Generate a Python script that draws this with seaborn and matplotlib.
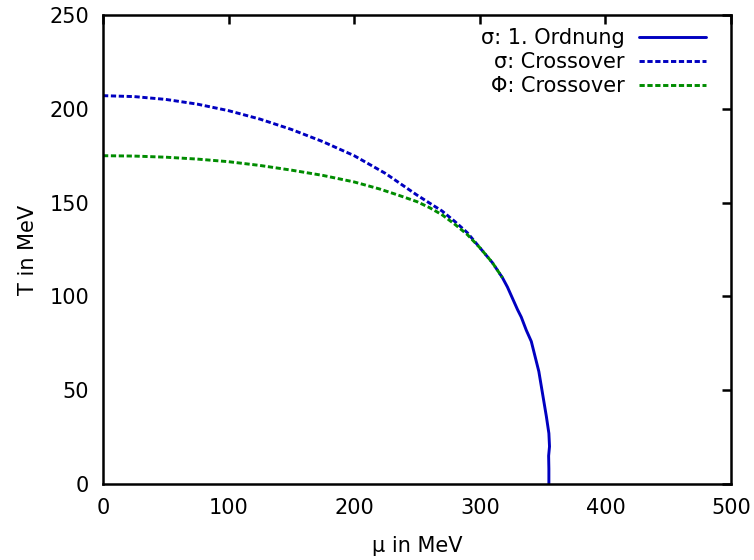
import matplotlib
matplotlib.use("Agg")
import matplotlib.pyplot as plt
import seaborn as sns
import pandas as pd

# data (mu in MeV, T in MeV)
mu_first = [318, 322, 326, 330, 333, 337, 341, 344, 347, 349, 351, 353, 355, 355.5, 354.8, 355, 355]
T_first = [110, 105, 99, 93, 89, 82, 76, 68, 60, 52, 44, 36, 27, 20, 15, 8, 0]

mu_sigma = [0, 25, 50, 75, 100, 125, 150, 175, 200, 225, 250, 270, 280, 290, 300, 310, 318]
T_sigma = [207, 206.5, 205, 202.5, 199, 194.5, 189, 182.5, 175, 165.5, 154, 145.5, 140, 134, 126, 118, 110]

mu_phi = [0, 25, 50, 75, 100, 125, 150, 175, 200, 220, 235, 250, 260, 270, 280, 290, 300, 310, 318]
T_phi = [175, 174.8, 174.2, 173.2, 171.8, 169.8, 167.3, 164.5, 161, 157.3, 154, 150.5, 147.3, 143.5, 138.5, 133, 126, 118, 110]

labels = ["σ: 1. Ordnung", "σ: Crossover", "Φ: Crossover"]
colors = ["#0000c0", "#0000c0", "#008c00"]

sns.set_style("white")
plt.rcParams["font.family"] = ["DejaVu Sans"]
plt.rcParams["text.color"] = "black"
plt.rcParams["axes.labelcolor"] = "black"
plt.rcParams["xtick.color"] = "black"
plt.rcParams["ytick.color"] = "black"

FS = 15

fig = plt.figure(figsize=(7.54, 5.6), dpi=100)
ax = fig.add_axes([103 / 754, 1 - 484 / 560, 628 / 754, 469 / 560])

df1 = pd.DataFrame({"mu": mu_first, "T": T_first})
df2 = pd.DataFrame({"mu": mu_sigma, "T": T_sigma})
df3 = pd.DataFrame({"mu": mu_phi, "T": T_phi})

lw = 2.1
sns.lineplot(data=df1, x="mu", y="T", ax=ax, color=colors[0], lw=lw,
             estimator=None, sort=False, label=labels[0])
sns.lineplot(data=df2, x="mu", y="T", ax=ax, color=colors[1], lw=lw,
             estimator=None, sort=False, label=labels[1])
sns.lineplot(data=df3, x="mu", y="T", ax=ax, color=colors[2], lw=lw,
             estimator=None, sort=False, label=labels[2])
ax.lines[1].set_dashes([1.8, 0.9])
ax.lines[2].set_dashes([1.8, 0.9])

ax.set_xlim(0, 500)
ax.set_ylim(0, 250)
ax.set_xticks([0, 100, 200, 300, 400, 500])
ax.set_yticks([0, 50, 100, 150, 200, 250])
ax.tick_params(direction="in", length=6.5, width=1.8, top=True, right=True,
               labelsize=FS, color="black", labelcolor="black")
ax.tick_params(axis="x", pad=10)
ax.tick_params(axis="y", pad=10)
for s in ax.spines.values():
    s.set_linewidth(1.8)
    s.set_color("black")
ax.set_xlabel("μ in MeV", fontsize=FS, labelpad=13)
ax.set_ylabel("T in MeV", fontsize=FS, labelpad=8)

leg = ax.legend(loc="upper right", bbox_to_anchor=(0.9666, 0.981),
                frameon=False, markerfirst=False,
                fontsize=FS, handlelength=3.2, borderaxespad=0.0,
                labelspacing=0.2, handletextpad=0.7, borderpad=0.2)
for t in leg.get_texts():
    t.set_ha("right")
leg._legend_box.align = "right"

fig.savefig("out.png", dpi=100)
